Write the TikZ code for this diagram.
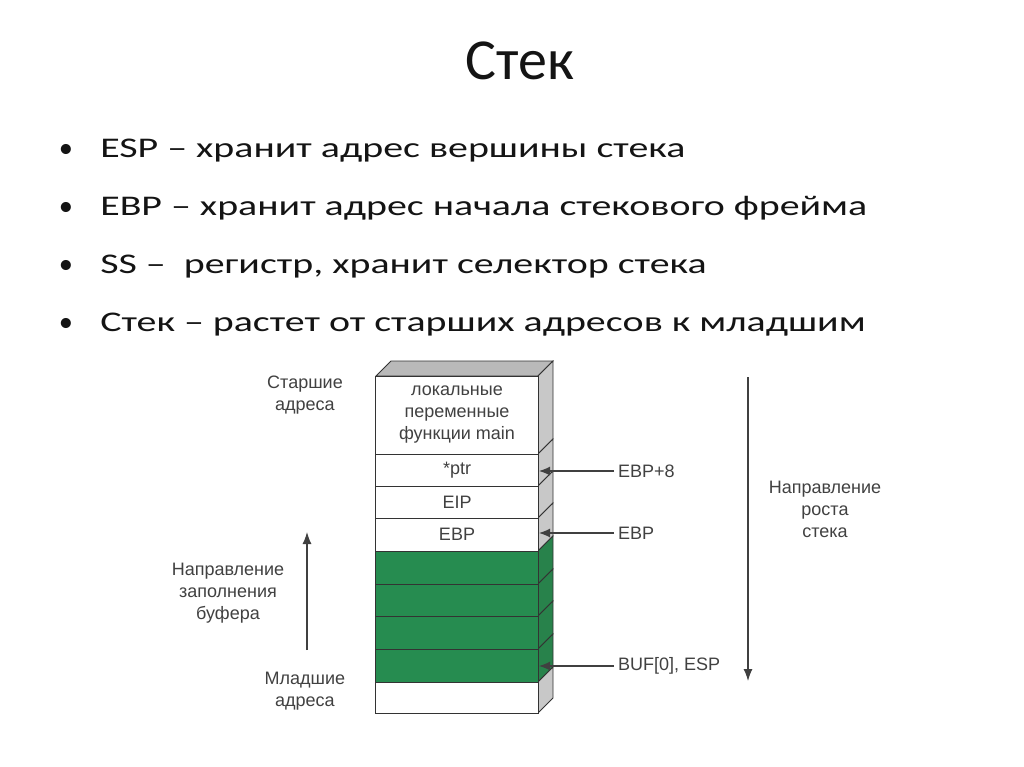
\documentclass[tikz,border=0pt]{standalone}
\usepackage{fontspec}
\setmainfont{Carlito}
\newfontfamily\diagfont{Liberation Sans}
\usetikzlibrary{arrows.meta}
\definecolor{stackgreen}{RGB}{38,140,80}
\definecolor{sidegreen}{RGB}{40,130,75}
\definecolor{sidegray}{RGB}{200,200,200}
\definecolor{topgray}{RGB}{185,185,185}
\definecolor{diagtext}{RGB}{65,65,65}
\definecolor{slidetext}{RGB}{20,20,20}
\tikzset{
  title/.style={font=\fontsize{58}{66}\selectfont, text=slidetext, inner sep=0pt},
  bullet/.style={font=\fontsize{28.5}{34}\selectfont, text=slidetext, anchor=base west, inner sep=0pt},
  bulletdot/.style={font=\fontsize{28.5}{34}\selectfont, text=slidetext, anchor=base, inner sep=0pt},
  cell/.style={draw=black!80, line width=0.8pt, minimum width=163pt, inner sep=0pt,
    font=\diagfont\fontsize{18}{22}\selectfont, text=diagtext, align=center},
  wcell/.style={cell, fill=white},
  gcell/.style={cell, fill=stackgreen},
  dlabel/.style={font=\diagfont\fontsize{18}{22}\selectfont, text=diagtext, align=center, inner sep=2pt},
  pointer/.style={draw=black!75, line width=1.2pt, -{Latex[length=11pt,width=9pt]}},
  growth/.style={draw=black!75, line width=1.2pt, -{Latex[length=12pt,width=9pt]}},
}
\begin{document}
\begin{tikzpicture}[x=1pt,y=-1pt]
\useasboundingbox (0,0) rectangle (1024,767);
\fill[white] (0,0) rectangle (1024,767);

% title
\node[title, anchor=base] (ttl) at (520,80) {Стек};

% bullets
\foreach \yy/\txt [count=\i] in {158/{ESP – хранит адрес вершины стека},
  216/{EBP – хранит адрес начала стекового фрейма},
  273/{SS –\ \ регистр, хранит селектор стека},
  331/{Стек – растет от старших адресов к младшим}}{
  \node[bullet, xscale=1.4, transform shape] (b\i) at (100,\yy) {\txt};
  \node[bulletdot] (d\i) at (66,\yy) {•};
}

% stack: top face
\filldraw[fill=topgray, draw=black!80, line width=0.8pt] (376,376) -- (391,361) -- (553,361) -- (538,376) -- cycle;

% side faces
\foreach \t/\b/\c in {376/454/sidegray, 454/486/sidegray, 486/518/sidegray, 518/551/sidegray,
  551/584/sidegreen, 584/616/sidegreen, 616/649/sidegreen, 649/682/sidegreen, 682/713/sidegray}{
  \filldraw[fill=\c, draw=black!80, line width=0.8pt] (538,\t) -- (553,\t-15) -- (553,\b-15) -- (538,\b) -- cycle;
}

% front cells
\node[wcell, minimum height=78pt] (loc) at (457,415) {локальные\\переменные\\функции main};
\node[wcell, minimum height=32pt] (ptr) at (457,470) {*ptr};
\node[wcell, minimum height=32pt] (eip) at (457,502) {EIP};
\node[wcell, minimum height=33pt] (ebp) at (457,534.5) {EBP};
\node[gcell, minimum height=33pt] (g1) at (457,567.5) {};
\node[gcell, minimum height=32pt] (g2) at (457,600) {};
\node[gcell, minimum height=33pt] (g3) at (457,632.5) {};
\node[gcell, minimum height=33pt] (g4) at (457,665.5) {};
\node[wcell, minimum height=31pt] (bot) at (457,697.5) {};

% pointer targets on the side face
\coordinate (pA) at (539,471);
\coordinate (pB) at (539,533);
\coordinate (pC) at (539,666);

% labels on the right
\node[dlabel, anchor=west, inner sep=4pt] (lA) at (614,471) {EBP+8};
\node[dlabel, anchor=west, inner sep=4pt] (lB) at (614,533) {EBP};
\node[dlabel, anchor=west, inner sep=4pt] (lC) at (614,666) {BUF[0], ESP};
\draw[pointer] (lA.west) -- (pA);
\draw[pointer] (lB.west) -- (pB);
\draw[pointer] (lC.west) -- (pC);

% growth direction of the stack
\coordinate (gTop) at (748,377);
\coordinate (gBot) at (748,681);
\draw[growth] (gTop) -- (gBot);
\node[dlabel] (growlbl) at (825,509) {Направление\\роста\\стека};

% left side labels
\node[dlabel] (hi) at (305,395) {Старшие\\адреса};
\node[dlabel] (lo) at (305,691) {Младшие\\адреса};
\node[dlabel] (fill) at (228,593) {Направление\\заполнения\\буфера};
\coordinate (fBot) at (307,650);
\coordinate (fTop) at (307,532);
\draw[growth] (fBot) -- (fTop);
\end{tikzpicture}
\end{document}
